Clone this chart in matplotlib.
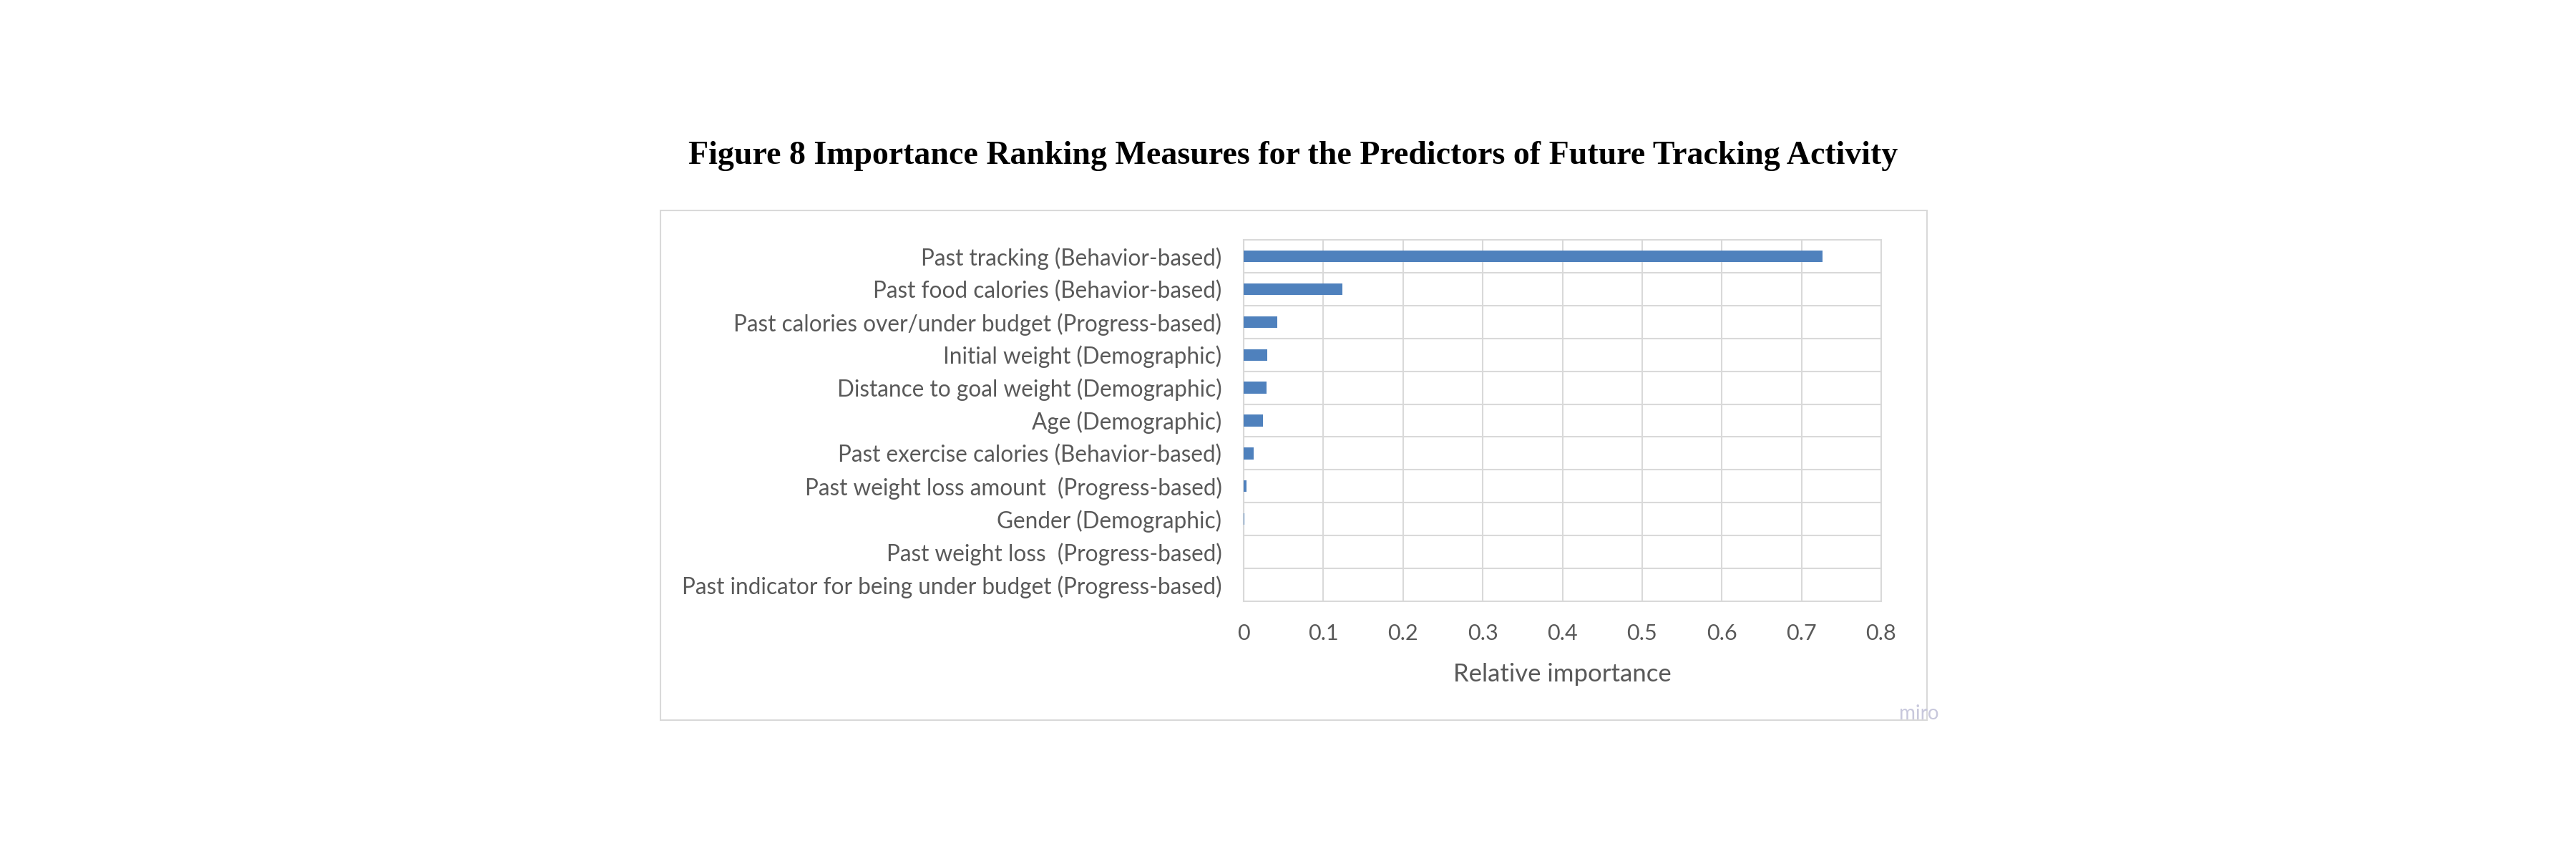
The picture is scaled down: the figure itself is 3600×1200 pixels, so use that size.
import matplotlib
matplotlib.use("Agg")
import matplotlib.pyplot as plt
from matplotlib.patches import Rectangle
import numpy as np

# data (top to bottom)
predictors = [
    "Past tracking (Behavior-based)",
    "Past food calories (Behavior-based)",
    "Past calories over/under budget (Progress-based)",
    "Initial weight (Demographic)",
    "Distance to goal weight (Demographic)",
    "Age (Demographic)",
    "Past exercise calories (Behavior-based)",
    "Past weight loss amount  (Progress-based)",
    "Gender (Demographic)",
    "Past weight loss  (Progress-based)",
    "Past indicator for being under budget (Progress-based)",
]
importance = [0.726, 0.1235, 0.0424, 0.0294, 0.0288, 0.0245, 0.0125, 0.0038, 0.0005, 0.0, 0.0]
xticks = [0, 0.1, 0.2, 0.3, 0.4, 0.5, 0.6, 0.7, 0.8]
xtick_labels = ["0", "0.1", "0.2", "0.3", "0.4", "0.5", "0.6", "0.7", "0.8"]

grid_c = "#D9D9D9"
text_c = "#595959"
bar_c = "#4F81BD"
font = "Lato"

fig = plt.figure(figsize=(36, 12), dpi=100)
fig.patch.set_facecolor("white")

# outer chart frame
fig.patches.append(Rectangle((923 / 3600, 1 - 1006 / 1200), (2693 - 923) / 3600, (1006 - 294) / 1200,
                             transform=fig.transFigure, fill=False, edgecolor=grid_c, lw=1.5))

ax = fig.add_axes([1738 / 3600, 1 - 840 / 1200, (2629 - 1738) / 3600, (840 - 335) / 1200])
y = np.arange(len(predictors))
ax.barh(y, importance, height=0.355, color=bar_c, lw=0, zorder=3)
ax.set_ylim(len(predictors) - 0.5, -0.5)
ax.set_xlim(0, 0.8)

ax.set_yticks(y)
ax.set_yticklabels(predictors, fontsize=22.7, color=text_c, family=font)
ax.set_yticks(np.arange(len(predictors) + 1) - 0.5, minor=True)
ax.set_xticks(xticks)
ax.set_xticklabels(xtick_labels, fontsize=22, color=text_c, family=font)
ax.tick_params(axis="y", which="both", length=0, pad=22)
ax.tick_params(axis="x", length=0, pad=22)

ax.grid(axis="x", color=grid_c, lw=1.5, zorder=0)
ax.grid(axis="y", which="minor", color=grid_c, lw=1.5, zorder=0)
for s in ax.spines.values():
    s.set_color(grid_c)
    s.set_linewidth(1.5)

ax.set_xlabel("Relative importance", fontsize=25, color=text_c, family=font, labelpad=20)

fig.text(0.502, 1 - 218 / 1200, "Figure 8 Importance Ranking Measures for the Predictors of Future Tracking Activity",
         ha="center", va="center", fontsize=33, fontweight="bold", family="Liberation Serif")
fig.text(2682 / 3600, 1 - 997 / 1200, "miro", ha="center", va="center", fontsize=20,
         color="#C8C8DC", family=font)

fig.savefig("out.png", dpi=100)
